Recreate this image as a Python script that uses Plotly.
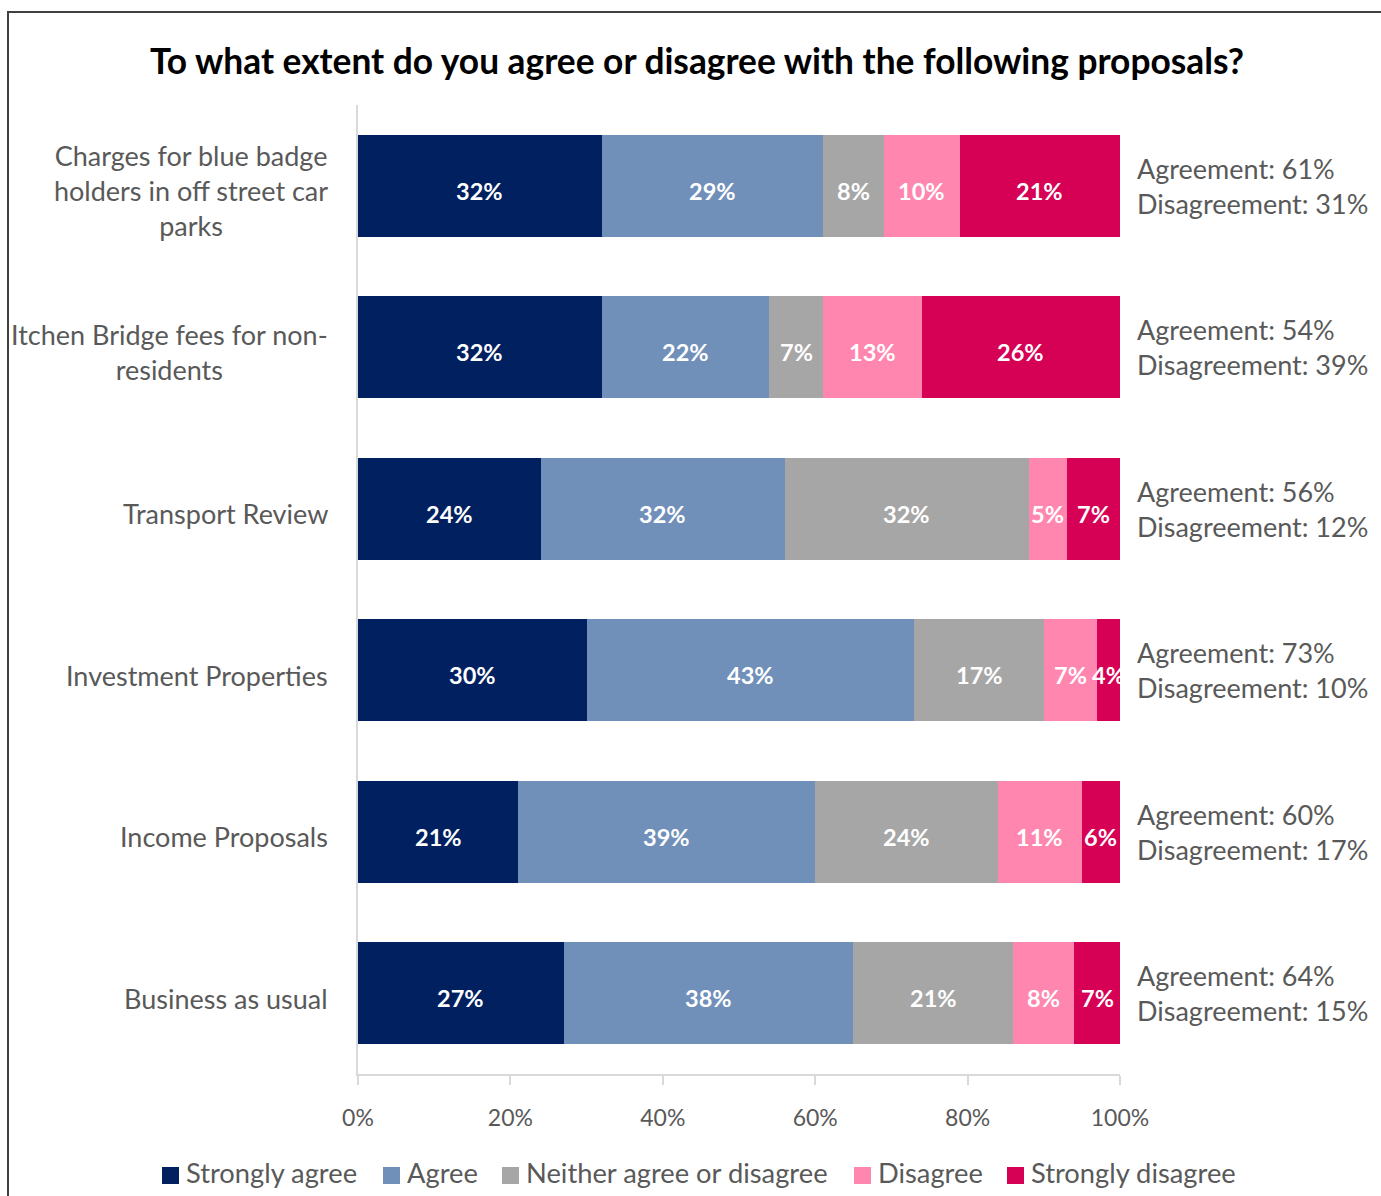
import plotly.graph_objects as go

# Survey responses per proposal (percent of respondents)
proposals = [
    "Charges for blue badge<br>holders in off street car<br>parks",
    "Itchen Bridge fees for non-<br>residents",
    "Transport Review",
    "Investment Properties",
    "Income Proposals",
    "Business as usual",
]
strongly_agree = [32, 32, 24, 30, 21, 27]
agree = [29, 22, 32, 43, 39, 38]
neither = [8, 7, 32, 17, 24, 21]
disagree = [10, 13, 5, 7, 11, 8]
strongly_disagree = [21, 26, 7, 4, 6, 7]

# Net totals reported beside each bar
agreement_total = [61, 54, 56, 73, 60, 64]
disagreement_total = [31, 39, 12, 10, 17, 15]

x_ticks = [0, 20, 40, 60, 80, 100]

series = [
    ("Strongly agree", strongly_agree, "#002060"),
    ("Agree", agree, "#7090BA"),
    ("Neither agree or disagree", neither, "#A6A6A6"),
    ("Disagree", disagree, "#FF87AF"),
    ("Strongly disagree", strongly_disagree, "#D60055"),
]

FONT = "Lato, Calibri, Carlito, sans-serif"
GREY = "#595959"

W, H = 1381, 1196
M_L, M_R, M_T, M_B = 358, 261, 105, 122
PLOT_W = W - M_L - M_R
PLOT_H = H - M_T - M_B


def px_x(px):
    """Pixel column -> paper x."""
    return (px - M_L) / PLOT_W


def px_y(py):
    """Pixel row -> paper y."""
    return (H - M_B - py) / PLOT_H


fig = go.Figure()

# Stacked segments
for name, vals, color in series:
    fig.add_trace(go.Bar(
        y=proposals,
        x=vals,
        name=name,
        orientation="h",
        marker=dict(color=color, line=dict(width=0)),
        width=0.63,
        hoverinfo="x+name",
        showlegend=False,
    ))

# Percentage labels centred on the visible part of every segment
start = [0] * len(proposals)
for _, vals, _ in series:
    for i, v in enumerate(vals):
        s = start[i]
        e = min(s + v, 100)
        fig.add_annotation(
            x=(s + e) / 2, xref="x", y=proposals[i], yref="y",
            text=f"<b>{v}%</b>", showarrow=False,
            xanchor="center", yanchor="middle", yshift=-5,
            font=dict(family=FONT, size=23.5, color="white"),
        )
        start[i] = s + v

# Category labels on the left, wrapped and centred
for label in proposals:
    fig.add_annotation(
        x=px_x(330), xref="paper", y=label, yref="y",
        text=label, showarrow=False,
        xanchor="right", yanchor="middle", align="center", yshift=-5,
        font=dict(family=FONT, size=27, color=GREY),
    )

# Agreement / disagreement summaries on the right
for label, a, d in zip(proposals, agreement_total, disagreement_total):
    fig.add_annotation(
        x=px_x(1135), xref="paper", y=label, yref="y",
        text=f"Agreement: {a}%<br>Disagreement: {d}%",
        showarrow=False, xanchor="left", yanchor="middle", align="left",
        font=dict(family=FONT, size=27, color=GREY),
    )

# Legend row along the bottom
legend_left = [162, 383, 502, 854, 1007]
LEG_Y = 1175.5
SW = 17
for (name, _, color), lx in zip(series, legend_left):
    fig.add_shape(
        type="rect", xref="paper", yref="paper",
        x0=px_x(lx), x1=px_x(lx + SW),
        y0=px_y(LEG_Y - SW / 2), y1=px_y(LEG_Y + SW / 2),
        line=dict(width=0), fillcolor=color,
    )
    fig.add_annotation(
        x=px_x(lx + 22), xref="paper", y=px_y(LEG_Y - 3), yref="paper",
        text=name, showarrow=False, xanchor="left", yanchor="middle",
        font=dict(family=FONT, size=27.3, color=GREY),
    )

# Outer chart frame
fig.add_shape(
    type="rect", xref="paper", yref="paper",
    x0=px_x(8), x1=px_x(1400), y0=px_y(12), y1=px_y(1215),
    line=dict(color="#404040", width=2), fillcolor="rgba(0,0,0,0)",
    layer="below",
)

fig.update_layout(
    width=W, height=H,
    barmode="stack",
    paper_bgcolor="white",
    plot_bgcolor="white",
    margin=dict(l=M_L, r=M_R, t=M_T, b=M_B),
    title=dict(
        text="<b>To what extent do you agree or disagree with the following proposals?</b>",
        x=697 / W, xanchor="center", xref="container",
        y=1 - 62 / H, yanchor="middle", yref="container",
        font=dict(family=FONT, size=35.3, color="black"),
    ),
    xaxis=dict(
        range=[0, 100],
        tickvals=x_ticks,
        ticktext=[f"{t}%" for t in x_ticks],
        showgrid=False, zeroline=False,
        showline=True, linecolor="#D9D9D9", linewidth=1.5,
        ticks="outside", ticklen=9, tickcolor="#D9D9D9", tickwidth=1.5,
        ticklabelstandoff=14,
        tickfont=dict(family=FONT, size=23, color=GREY),
        fixedrange=True,
    ),
    yaxis=dict(
        autorange="reversed",
        showticklabels=False,
        showgrid=False, zeroline=False,
        showline=True, linecolor="#D9D9D9", linewidth=1.5,
        ticks="",
        fixedrange=True,
    ),
    showlegend=False,
)

fig.write_html("out.html")
